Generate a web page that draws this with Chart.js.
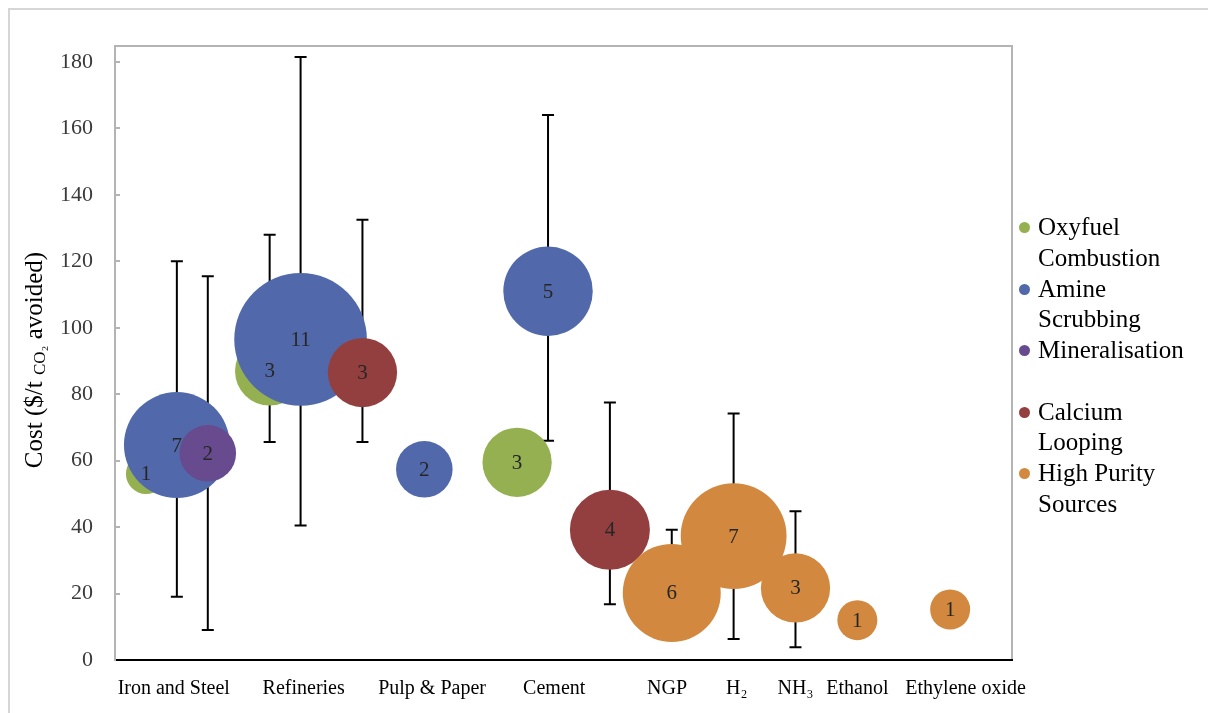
<!DOCTYPE html>
<html>
<head>
<meta charset="utf-8">
<script src="https://cdn.jsdelivr.net/npm/chart.js@4.4.1/dist/chart.umd.min.js"></script>
<style>
  body { margin: 0; background: #fff; overflow: hidden; }
  #frame { position: absolute; left: 8px; top: 8px; width: 1400px; height: 900px; border: 2px solid #d6d6d6; }
  #wrap { position: absolute; left: 0; top: 0; width: 1208px; height: 713px; }
  #legend { position: absolute; left: 1019px; top: 212px; font-family: 'Liberation Serif', 'Times New Roman', serif; font-size: 25px; line-height: 30.7px; color: #000; }
  .item { position: relative; height: 61.5px; width: 165px; padding-left: 19px; }
  .dot { position: absolute; left: 0; top: 10px; width: 11px; height: 11px; border-radius: 50%; }
</style>
</head>
<body>
<div id="frame"></div>
<div id="wrap"><canvas id="chart" width="1208" height="713"></canvas></div>
<div id="legend"></div>
<script>
// sectors along the x axis and where their labels sit
const categories = ['Iron and Steel', 'Refineries', 'Pulp & Paper', 'Cement', 'NGP', 'H₂', 'NH₃', 'Ethanol', 'Ethylene oxide'];
const categoryX = [1.9, 6.1, 10.25, 14.2, 17.85, 20.1, 22, 24, 27.5];
const yTickValues = [0, 20, 40, 60, 80, 100, 120, 140, 160, 180];

const seriesNames = ['Oxyfuel Combustion', 'Amine Scrubbing', 'Mineralisation', 'Calcium Looping', 'High Purity Sources'];
const seriesColors = ['#94b050', '#5169aa', '#684a8e', '#933f3f', '#d2893f'];

// Oxyfuel combustion
const oxyX = [1, 5, 13];
const oxyCost = [56, 87, 59.5];
const oxyCount = [1, 3, 3];
const oxyLow = [null, 65.6, null];
const oxyHigh = [null, 128, null];

// Amine scrubbing
const amineX = [2, 6, 10, 14];
const amineCost = [64.7, 96.5, 57.4, 111];
const amineCount = [7, 11, 2, 5];
const amineLow = [19, 40.5, null, 66];
const amineHigh = [120, 181.5, null, 164];

// Mineralisation
const minX = [3];
const minCost = [62.2];
const minCount = [2];
const minLow = [9];
const minHigh = [115.5];

// Calcium looping
const calX = [8, 16];
const calCost = [86.5, 39.2];
const calCount = [3, 4];
const calLow = [65.6, 16.8];
const calHigh = [132.5, 77.5];

// High purity sources
const hpsX = [18, 20, 22, 24, 27];
const hpsCost = [20.2, 37.3, 21.7, 12, 15.2];
const hpsCount = [6, 7, 3, 1, 1];
const hpsLow = [8, 6.3, 3.8, null, null];
const hpsHigh = [39.2, 74.2, 44.8, null, null];

const FONT = "'Liberation Serif', 'Times New Roman', serif";

function points(xs, ys, ns, lo, hi) {
  return xs.map((x, i) => ({ x: x, y: ys[i], r: 20 * Math.sqrt(ns[i]), n: ns[i], lo: lo[i], hi: hi[i] }));
}

const seriesData = [
  points(oxyX, oxyCost, oxyCount, oxyLow, oxyHigh),
  points(amineX, amineCost, amineCount, amineLow, amineHigh),
  points(minX, minCost, minCount, minLow, minHigh),
  points(calX, calCost, calCount, calLow, calHigh),
  points(hpsX, hpsCost, hpsCount, hpsLow, hpsHigh)
];

// error bars behind all bubbles
const errorBars = {
  id: 'errorBars',
  beforeDatasetsDraw(chart) {
    const { ctx, scales: { x, y } } = chart;
    ctx.save();
    ctx.strokeStyle = '#000';
    ctx.lineWidth = 2;
    chart.data.datasets.forEach(ds => {
      ds.data.forEach(p => {
        if (p.lo == null) return;
        const px = x.getPixelForValue(p.x);
        const top = y.getPixelForValue(p.hi);
        const bot = y.getPixelForValue(p.lo);
        ctx.beginPath();
        ctx.moveTo(px, top); ctx.lineTo(px, bot);
        ctx.moveTo(px - 6, top); ctx.lineTo(px + 6, top);
        ctx.moveTo(px - 6, bot); ctx.lineTo(px + 6, bot);
        ctx.stroke();
      });
    });
    ctx.restore();
  }
};

// study counts written inside the bubbles
const bubbleLabels = {
  id: 'bubbleLabels',
  afterDatasetsDraw(chart) {
    const ctx = chart.ctx;
    ctx.save();
    ctx.font = '21px ' + FONT;
    ctx.fillStyle = '#262626';
    ctx.textAlign = 'center';
    ctx.textBaseline = 'middle';
    chart.data.datasets.forEach((ds, i) => {
      chart.getDatasetMeta(i).data.forEach((el, j) => {
        ctx.fillText(String(ds.data[j].n), el.x, el.y + 1);
      });
    });
    ctx.restore();
  }
};

// plot area frame and y title with subscript
const frame = {
  id: 'frame',
  beforeDraw(chart) {
    const { ctx, chartArea: a } = chart;
    ctx.save();
    ctx.strokeStyle = '#b4b4b4';
    ctx.lineWidth = 2;
    ctx.beginPath();
    ctx.moveTo(a.left, a.bottom); ctx.lineTo(a.left, a.top);
    ctx.lineTo(a.right, a.top); ctx.lineTo(a.right, a.bottom);
    ctx.stroke();
    ctx.restore();
  },
  afterDraw(chart) {
    const ctx = chart.ctx;
    const a = chart.chartArea;
    const parts = [['Cost ($/t ', 25, 0], ['CO₂', 17, 6], [' avoided)', 25, 0]];
    ctx.save();
    ctx.fillStyle = '#000';
    ctx.textBaseline = 'middle';
    let total = 0;
    parts.forEach(p => { ctx.font = p[1] + 'px ' + FONT; total += ctx.measureText(p[0]).width; });
    ctx.translate(35, (a.top + a.bottom) / 2 + 7);
    ctx.rotate(-Math.PI / 2);
    let pos = -total / 2;
    parts.forEach(p => {
      ctx.font = p[1] + 'px ' + FONT;
      ctx.textAlign = 'left';
      ctx.fillText(p[0], pos, p[2]);
      pos += ctx.measureText(p[0]).width;
    });
    ctx.restore();
  }
};

const datasets = seriesData.map((data, i) => ({
  label: seriesNames[i],
  data: data,
  backgroundColor: seriesColors[i],
  borderWidth: 0,
  order: 5 - i
}));

new Chart(document.getElementById('chart'), {
  type: 'bubble',
  data: { datasets: datasets },
  options: {
    responsive: false,
    animation: false,
    devicePixelRatio: 1,
    events: [],
    layout: { autoPadding: false, padding: { top: 46, right: 196, bottom: 0, left: 0 } },
    plugins: { legend: { display: false }, tooltip: { enabled: false } },
    scales: {
      x: {
        type: 'linear',
        min: 0,
        max: 29,
        border: { color: '#000', width: 2 },
        grid: { display: false, drawTicks: false },
        afterBuildTicks: s => { s.ticks = categoryX.map(v => ({ value: v })); },
        afterFit: s => { s.height = 53; },
        ticks: {
          autoSkip: false,
          maxRotation: 0,
          padding: 17,
          color: '#000',
          font: { family: FONT, size: 20 },
          callback: (v, i) => categories[i]
        }
      },
      y: {
        type: 'linear',
        min: 0,
        max: 184.8,
        border: { color: '#b4b4b4', width: 2 },
        grid: { drawOnChartArea: false, drawTicks: true, tickLength: -5, color: '#b4b4b4', lineWidth: 2 },
        afterBuildTicks: s => { s.ticks = yTickValues.map(v => ({ value: v })); },
        afterFit: s => { s.width = 115; },
        ticks: {
          autoSkip: false,
          padding: 27,
          color: '#3a3a3a',
          font: { family: FONT, size: 22 }
        }
      }
    }
  },
  plugins: [errorBars, bubbleLabels, frame]
});

// legend, two lines per entry as in the original
const legend = document.getElementById('legend');
seriesNames.forEach((name, i) => {
  const item = document.createElement('div');
  item.className = 'item';
  const dot = document.createElement('span');
  dot.className = 'dot';
  dot.style.background = seriesColors[i];
  item.appendChild(dot);
  item.appendChild(document.createTextNode(name));
  legend.appendChild(item);
});
</script>
</body>
</html>
